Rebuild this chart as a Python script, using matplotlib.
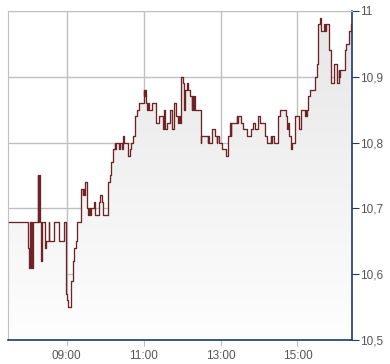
import matplotlib
matplotlib.use("Agg")
import matplotlib.pyplot as plt
import numpy as np
from matplotlib.colors import LinearSegmentedColormap

# intraday quotes (time, price)
times = ["07:30", "08:00", "08:01", "08:03", "08:04", "08:05", "08:06", "08:07",
         "08:15", "08:16", "08:17", "08:18", "08:20", "08:22", "08:26", "08:27",
         "08:32", "08:33", "08:40", "08:48", "08:56", "08:59", "09:01", "09:02",
         "09:06", "09:07", "09:10", "09:12", "09:15", "09:16", "09:23", "09:25",
         "09:26", "09:27", "09:28", "09:31", "09:34", "09:35", "09:36", "09:38",
         "09:42", "09:44", "09:50", "09:52", "09:55", "09:57", "10:04", "10:05",
         "10:08", "10:09", "10:13", "10:15", "10:16", "10:17", "10:22", "10:23",
         "10:26", "10:28", "10:29", "10:35", "10:39", "10:41", "10:44", "10:46",
         "10:50", "10:53", "11:00", "11:01", "11:02", "11:03", "11:06", "11:07",
         "11:08", "11:13", "11:20", "11:24", "11:31", "11:32", "11:33", "11:36",
         "11:41", "11:45", "11:47", "11:50", "11:53", "11:55", "11:57", "11:59",
         "12:02", "12:03", "12:05", "12:07", "12:10", "12:12", "12:15", "12:16",
         "12:17", "12:18", "12:20", "12:29", "12:30", "12:40", "12:41", "12:42",
         "12:46", "12:51", "12:54", "12:55", "12:57", "13:03", "13:08", "13:11",
         "13:12", "13:15", "13:16", "13:17", "13:25", "13:26", "13:27", "13:32",
         "13:35", "13:41", "13:48", "13:51", "13:54", "13:59", "14:02", "14:10",
         "14:13", "14:18", "14:19", "14:20", "14:24", "14:30", "14:32", "14:42",
         "14:44", "14:45", "14:47", "14:50", "14:51", "14:56", "15:03", "15:05",
         "15:12", "15:13", "15:14", "15:15", "15:17", "15:19", "15:27", "15:30",
         "15:32", "15:35", "15:36", "15:37", "15:41", "15:43", "15:45", "15:49",
         "15:52", "15:57", "16:02", "16:04", "16:05", "16:06", "16:14", "16:16",
         "16:20", "16:23", "16:25"]
prices = [10.68, 10.64, 10.61, 10.68, 10.61, 10.68, 10.61, 10.68,
          10.75, 10.68, 10.75, 10.68, 10.62, 10.68, 10.64, 10.65,
          10.68, 10.65, 10.68, 10.65, 10.68, 10.57, 10.56, 10.55,
          10.58, 10.59, 10.62, 10.64, 10.65, 10.68, 10.73, 10.72,
          10.73, 10.72, 10.74, 10.70, 10.69, 10.70, 10.69, 10.70,
          10.71, 10.69, 10.71, 10.72, 10.71, 10.69, 10.73, 10.74,
          10.75, 10.77, 10.79, 10.80, 10.79, 10.80, 10.79, 10.80,
          10.79, 10.81, 10.80, 10.78, 10.79, 10.80, 10.81, 10.84,
          10.85, 10.86, 10.88, 10.87, 10.88, 10.86, 10.85, 10.86,
          10.85, 10.86, 10.83, 10.84, 10.82, 10.85, 10.82, 10.83,
          10.85, 10.82, 10.86, 10.84, 10.83, 10.84, 10.83, 10.90,
          10.89, 10.85, 10.88, 10.89, 10.88, 10.87, 10.85, 10.87,
          10.85, 10.87, 10.85, 10.80, 10.81, 10.80, 10.81, 10.80,
          10.82, 10.81, 10.80, 10.81, 10.80, 10.79, 10.78, 10.79,
          10.81, 10.83, 10.81, 10.83, 10.84, 10.83, 10.84, 10.83,
          10.82, 10.81, 10.82, 10.83, 10.82, 10.84, 10.83, 10.81,
          10.80, 10.81, 10.80, 10.81, 10.80, 10.84, 10.85, 10.84,
          10.82, 10.83, 10.81, 10.79, 10.80, 10.84, 10.82, 10.85,
          10.84, 10.85, 10.84, 10.85, 10.87, 10.88, 10.90, 10.92,
          10.98, 10.99, 10.98, 10.97, 10.98, 10.97, 10.98, 10.94,
          10.89, 10.92, 10.89, 10.91, 10.90, 10.91, 10.94, 10.95,
          10.97, 10.98, 10.98]

xticks = ["09:00", "11:00", "13:00", "15:00"]
yticks = [10.5, 10.6, 10.7, 10.8, 10.9, 11.0]


def to_min(s):
    h, m = s.split(":")
    return int(h) * 60 + int(m)


t = np.array([to_min(s) for s in times])
p = np.array(prices)

plt.rcParams['font.family'] = ['Liberation Sans', 'DejaVu Sans']

fig = plt.figure(figsize=(3.9, 3.64), dpi=100)
ax = fig.add_axes([0.0205, 0.066, 0.882, 0.904])

x0, x1 = 448.5, 985
ymin, ymax = 10.5, 11.0

# gradient area under the line
poly = ax.fill_between(t, p, ymin, step='post', facecolor='none', edgecolor='none')
cmap = LinearSegmentedColormap.from_list('g', ['#fefefe', '#e6e6e6'])
grad = ax.imshow(np.linspace(0, 1, 256).reshape(-1, 1), extent=[x0, x1, ymin, ymax],
                 aspect='auto', cmap=cmap, origin='lower', zorder=1)
grad.set_clip_path(poly.get_paths()[0], transform=ax.transData)

ax.step(t, p, where='post', color='#6e2326', lw=0.95, zorder=3)

ax.set_xlim(x0, x1)
ax.set_ylim(ymin, ymax)

ax.set_xticks([to_min(s) for s in xticks])
ax.set_xticklabels(xticks)
ax.set_yticks(yticks)
ax.set_yticklabels([("%g" % v).replace(".", ",") for v in yticks])
ax.yaxis.tick_right()

ax.grid(True, color='#c0c0c0', lw=1, zorder=0)
ax.set_axisbelow(True)

navy = '#1f3868'
for s in ['top', 'left']:
    ax.spines[s].set_color('#c0c0c0')
for s in ['right', 'bottom']:
    ax.spines[s].set_color(navy)
    ax.spines[s].set_linewidth(1.2)

ax.tick_params(axis='y', direction='out', length=5, color=navy, pad=1,
               labelsize=8.5, labelcolor='#555555')
ax.tick_params(axis='x', direction='out', length=4, color='#c0c0c0', pad=3,
               labelsize=8.5, labelcolor='#555555')

fig.savefig('out.png', dpi=100)
